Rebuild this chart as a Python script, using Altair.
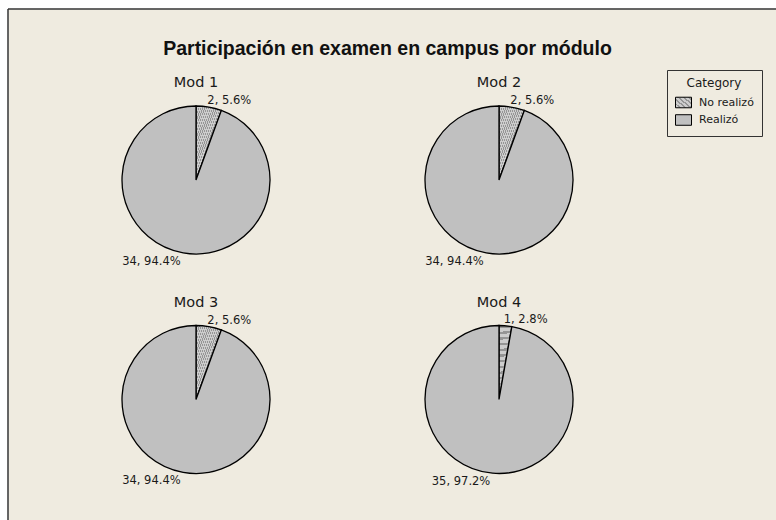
import altair as alt
import pandas as pd

# ---- data ----
modules = ["Mod 1", "Mod 2", "Mod 3", "Mod 4"]
no_realizo = [2, 2, 2, 1]
realizo = [34, 34, 34, 35]
categories = ["No realizó", "Realizó"]
title_text = "Participación en examen en campus por módulo"

rows = []
for i, m in enumerate(modules):
    for k, (cat, val) in enumerate(zip(categories, [no_realizo[i], realizo[i]])):
        rows.append({"module": m, "category": cat, "count": val, "order": k,
                     "col": i % 2, "row": i // 2})
df = pd.DataFrame(rows)

# ---- styles ----
BG = "#EFEBE0"
W, H = 768, 511

# hatched fill as a striped linear gradient
n = 26
stops = []
for i in range(n):
    a = i / n
    b = (i + 0.6) / n
    c = (i + 1) / n
    stops.append("{offset:%.4f,color:'#cdcdcd'}" % a)
    stops.append("{offset:%.4f,color:'#cdcdcd'}" % b)
    stops.append("{offset:%.4f,color:'#959595'}" % b)
    stops.append("{offset:%.4f,color:'#959595'}" % c)
hatch_expr = "{gradient:'linear',x1:0,y1:0,x2:1,y2:1,stops:[" + ",".join(stops) + "]}"

base = alt.Chart(df).transform_joinaggregate(
    total="sum(count)", groupby=["module"]
).transform_window(
    cum="sum(count)", groupby=["module"], sort=[alt.SortField("order")], frame=[None, 0]
).transform_calculate(
    start="(datum.cum - datum.count) / datum.total",
    end="datum.cum / datum.total",
    mid="(2*datum.cum - datum.count) / (2*datum.total)",
    label="datum.count + ', ' + format(datum.count / datum.total * 100, '.1f') + '%'",
)

X = alt.X("col:Q", scale=alt.Scale(domain=[0, 1], range=[188, 491]), axis=None)
Y = alt.Y("row:Q", scale=alt.Scale(domain=[0, 1], range=[171, 390.5]), axis=None)

pies = base.mark_arc(radius=74, stroke="black", strokeWidth=1.3).encode(
    x=X, y=Y,
    theta=alt.Theta("start:Q", scale=alt.Scale(domain=[0, 1]), stack=False),
    theta2="end:Q",
    color=alt.Color(
        "category:N",
        scale=alt.Scale(domain=categories, range=[{"expr": hatch_expr}, "#c0c0c0"]),
        legend=alt.Legend(
            orient="none", legendX=659, legendY=61,
            title="Category", titleAnchor="middle", titleAlign="center",
            titleFont="DejaVu Sans", titleFontSize=12, titleFontWeight="normal",
            titleColor="#1a1a1a", titlePadding=4,
            labelFont="DejaVu Sans", labelFontSize=11, labelColor="#1a1a1a",
            labelOffset=7,
            symbolType="M-1,-0.66H1V0.66H-1Z", symbolSize=256,
            symbolStrokeColor="black", symbolStrokeWidth=1, symbolOpacity=1,
            rowPadding=1.5, padding=8,
            strokeColor="#333333", fillColor=BG,
        ),
    ),
)

lab_top = base.transform_filter(alt.datum.category == "No realizó").mark_text(
    align="left", baseline="alphabetic", dx=-2,
    font="DejaVu Sans", fontSize=11.5, color="#1a1a1a",
).encode(
    x=X, y=Y,
    theta=alt.Theta("mid:Q", scale=alt.Scale(domain=[0, 1]), stack=False),
    radius=alt.value(77),
    text="label:N",
)

lab_bot = base.transform_filter(alt.datum.category == "Realizó").mark_text(
    align="right", baseline="top", dx=-2,
    font="DejaVu Sans", fontSize=11.5, color="#1a1a1a",
).encode(
    x=X, y=Y,
    theta=alt.Theta("mid:Q", scale=alt.Scale(domain=[0, 1]), stack=False),
    radius=alt.value(77),
    text="label:N",
)

mod_titles = base.transform_filter(alt.datum.category == "Realizó").mark_text(
    align="center", baseline="alphabetic", dy=-93,
    font="DejaVu Sans", fontSize=14.5, color="#1a1a1a",
).encode(x=X, y=Y, text="module:N")

title = alt.Chart(pd.DataFrame({"t": [title_text]})).mark_text(
    align="center", baseline="alphabetic",
    font="Liberation Sans", fontSize=19.5, fontWeight="bold", color="#111111",
).encode(text="t:N", x=alt.value(379.5), y=alt.value(46))

border = pd.DataFrame({"a": [0]})
left_border = alt.Chart(border).mark_rule(color="#333333", strokeWidth=1.5).encode(
    x=alt.value(0), y=alt.value(0), y2=alt.value(H))
top_border = alt.Chart(border).mark_rule(color="#333333", strokeWidth=1.5).encode(
    x=alt.value(0), x2=alt.value(W), y=alt.value(0))

chart = alt.layer(
    pies, lab_top, lab_bot, mod_titles, title, left_border, top_border
).properties(
    width=W, height=H,
    padding={"left": 8, "top": 9, "right": 0, "bottom": 0},
    autosize=alt.AutoSizeParams(type="none"),
    background="white",
).configure_view(fill=BG, stroke="transparent")

chart.save("out.html", embed_options={"renderer": "svg", "actions": False})
